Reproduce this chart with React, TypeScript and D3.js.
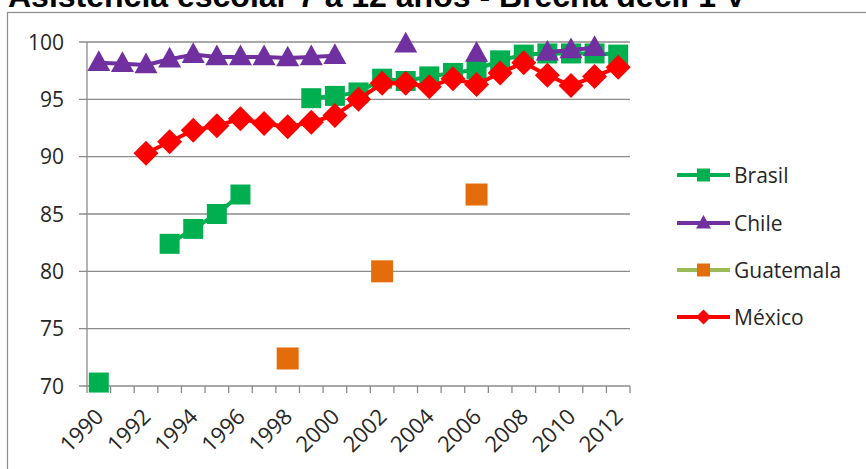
import React from "react";
import * as d3 from "d3";

const years = [
  "1990", "1991", "1992", "1993", "1994", "1995", "1996", "1997", "1998", "1999", "2000", "2001",
  "2002", "2003", "2004", "2005", "2006", "2007", "2008", "2009", "2010", "2011", "2012",
];
const yearLabels = ["1990", "1992", "1994", "1996", "1998", "2000", "2002", "2004", "2006", "2008", "2010", "2012"];
const yTicks = [70, 75, 80, 85, 90, 95, 100];

const brasil = [70.3, null, null, 82.4, 83.7, 85.0, 86.7, null, null, 95.1, 95.3, 95.6, 96.8, 96.6, 97.0, 97.3, 97.6, 98.4, 98.9, 99.0, 99.0, 99.0, 98.9];
const chile = [98.2, 98.1, 98.0, 98.5, 98.9, 98.7, 98.7, 98.7, 98.6, 98.7, 98.8, null, null, 99.8, null, null, 99.0, null, null, 99.1, 99.3, 99.5, null];
const guatemala = [null, null, null, null, null, null, null, null, 72.4, null, null, null, 80.0, null, null, null, 86.7, null, null, null, null, null, null];
const mexico = [null, null, 90.3, 91.3, 92.3, 92.7, 93.3, 92.9, 92.6, 93.0, 93.6, 95.0, 96.4, 96.4, 96.1, 96.8, 96.3, 97.3, 98.2, 97.1, 96.2, 97.0, 97.8];

const seriesNames = ["Brasil", "Chile", "Guatemala", "México"];

type Marker = "square" | "triangle" | "diamond";
const series: { name: string; values: (number | null)[]; line: string; fill: string; marker: Marker; size: number }[] = [
  { name: seriesNames[0], values: brasil, line: "#00B050", fill: "#00B050", marker: "square", size: 20 },
  { name: seriesNames[1], values: chile, line: "#7030A0", fill: "#7030A0", marker: "triangle", size: 23 },
  { name: seriesNames[2], values: guatemala, line: "#9BBB59", fill: "#E46C0A", marker: "square", size: 22 },
  { name: seriesNames[3], values: mexico, line: "#FF0000", fill: "#FF0000", marker: "diamond", size: 25 },
];

function markerPath(m: Marker, s: number): string {
  const h = s / 2;
  if (m === "square") return `M${-h},${-h}H${h}V${h}H${-h}Z`;
  if (m === "diamond") return `M0,${-h}L${h},0L0,${h}L${-h},0Z`;
  const th = s * 0.9;
  return `M0,${-th * 0.6}L${h},${th * 0.4}L${-h},${th * 0.4}Z`;
}

const FONT = "'Open Sans', sans-serif";

export default function App() {
  const W = 866, H = 469;
  const x = d3.scaleBand<string>().domain(years).range([87, 630]).padding(0);
  const y = d3.scaleLinear().domain([70, 100]).range([386, 42]);
  const cx = (i: number) => (x(years[i]) as number) + x.bandwidth() / 2;

  const line = d3
    .line<number | null>()
    .defined((d) => d != null)
    .x((_, i) => cx(i))
    .y((d) => y(d as number));

  const gridColor = "#8C8C8C";
  const boundaries = d3.range(years.length + 1).map((i) => 87 + i * x.bandwidth());

  const legendY = [175, 223, 270, 317];

  return (
    <svg width={W} height={H} style={{ position: "absolute", left: 0, top: 0, background: "#fff" }}>
      <text x={8} y={7} fontFamily="'Liberation Sans', Arial, sans-serif" fontWeight="bold" fontSize={32} fill="#000">
        Asistencia escolar 7 a 12 años - Brecha decil 1 V
      </text>
      <rect x={7.5} y={12.5} width={880} height={480} fill="#fff" stroke="#8C8C8C" strokeWidth={1.2} />

      {yTicks.map((t) => (
        <g key={t}>
          <line x1={79} x2={630} y1={y(t)} y2={y(t)} stroke={gridColor} strokeWidth={1.3} />
          <text x={64} y={y(t)} dy="0.36em" textAnchor="end" fontFamily={FONT} fontSize={21} fill="#262626">
            {t}
          </text>
        </g>
      ))}
      <line x1={87} x2={87} y1={y(100)} y2={y(70)} stroke={gridColor} strokeWidth={1.3} />
      {boundaries.map((b, i) => (
        <line key={i} x1={b} x2={b} y1={y(70)} y2={y(70) + 7} stroke={gridColor} strokeWidth={1.3} />
      ))}
      {yearLabels.map((lab) => {
        const px = (x(lab) as number) + x.bandwidth() / 2 + 6;
        const py = 418;
        return (
          <text key={lab} x={px} y={py} textAnchor="end" transform={`rotate(-45 ${px} ${py})`} fontFamily={FONT} fontSize={22} fill="#262626">
            {lab}
          </text>
        );
      })}

      {series.map((s) => (
        <g key={s.name}>
          <path d={line(s.values) || ""} fill="none" stroke={s.line} strokeWidth={4} strokeLinejoin="round" />
          {s.values.map((v, i) =>
            v == null ? null : (
              <path key={i} d={markerPath(s.marker, s.size)} transform={`translate(${cx(i)},${y(v)})`} fill={s.fill} />
            )
          )}
        </g>
      ))}

      {series.map((s, k) => (
        <g key={s.name} transform={`translate(0,${legendY[k]})`}>
          <line x1={677} x2={730} y1={0} y2={0} stroke={s.line} strokeWidth={4} />
          <path d={markerPath(s.marker, s.marker === "square" ? 13 : 15)} transform="translate(703.5,0)" fill={s.fill} />
          <text x={734} y={0} dy="0.36em" fontFamily={FONT} fontSize={21} fill="#262626">
            {s.name}
          </text>
        </g>
      ))}
    </svg>
  );
}
